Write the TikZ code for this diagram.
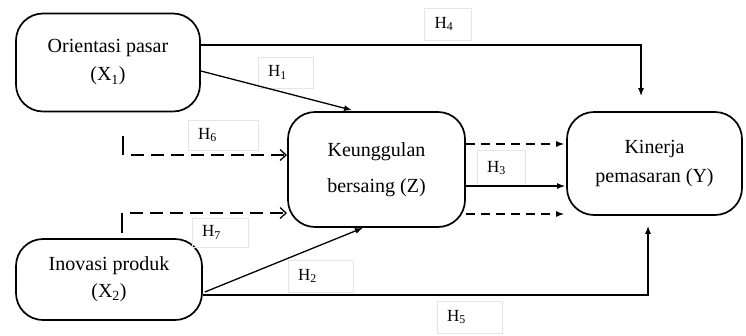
\documentclass[tikz,border=0pt]{standalone}
\usepackage{fontspec}
\setmainfont{Liberation Serif}
\usetikzlibrary{arrows.meta}
\begin{document}
\begin{tikzpicture}[x=1pt,y=-1pt,
  box/.style={draw, line width=1.7pt, rounded corners=27pt, align=center,
    font=\fontsize{20}{23}\selectfont, inner sep=0pt},
  lbl/.style={draw=black!10, line width=0.6pt, font=\fontsize{17}{20}\selectfont,
    align=left, inner xsep=10pt, inner ysep=0pt},
  arr/.style={line width=1.3pt, -{Latex[length=8pt,width=6pt]}},
  darr/.style={arr, dash pattern=on 9pt off 6pt},
  oarr/.style={line width=1.3pt, dash pattern=on 13pt off 7pt,
    -{Straight Barb[length=6pt,width=11pt]}},
  tick/.style={line width=1.3pt}
]
\useasboundingbox (0,0) rectangle (746,335);

% boxes
\node[box, minimum width=184pt, minimum height=98pt] (X1) at (108,62.5)
  {Orientasi pasar\\[5pt](X\textsubscript{1})};
\node[box, minimum width=186pt, minimum height=81pt] (X2) at (109,279.5)
  {Inovasi produk\\[4pt](X\textsubscript{2})};
\node[box, minimum width=177pt, minimum height=115pt] (Z) at (376.5,169.5)
  {Keunggulan\\[13pt]bersaing (Z)};
\node[box, minimum width=175pt, minimum height=103pt] (Y) at (654.5,163.5)
  {Kinerja\\[6pt]pemasaran (Y)};

% labels
\node[lbl, text width=27pt, minimum height=32pt] (h4) at (448,24) {H\textsubscript{4}};
\node[lbl, text width=35pt, minimum height=31pt] (h1) at (285.5,72.5) {H\textsubscript{1}};
\node[lbl, text width=50pt, minimum height=30pt] (h6) at (223,135) {H\textsubscript{6}};
\node[lbl, text width=36pt, minimum height=29pt] (h7) at (220,232.5) {H\textsubscript{7}};
\node[lbl, text width=45pt, minimum height=32pt] (h2) at (320.5,276) {H\textsubscript{2}};
\node[lbl, text width=28pt, minimum height=35pt] (h3) at (501,168) {H\textsubscript{3}};
\node[lbl, text width=45pt, minimum height=32pt] (h5) at (469.5,317) {H\textsubscript{5}};

% free ends for the moderation ticks
\coordinate (t6a) at (123,136);
\coordinate (t6b) at (123,155);
\coordinate (t6c) at (131,155);
\coordinate (t6d) at (287,155);
\coordinate (t7a) at (122,233);
\coordinate (t7b) at (122,213);
\coordinate (t7c) at (130,213);
\coordinate (t7d) at (287,213);

% connectors
\draw[arr] ([yshift=17.5pt]X1.east) -| ([xshift=-13.5pt,yshift=15pt]Y.north);
\draw[arr] ([yshift=-8.5pt]X1.east) -- ([xshift=-24.5pt,yshift=1pt]Z.north);
\draw[arr] ([xshift=2pt,yshift=-12.5pt]X2.east) -- ([xshift=-13.5pt]Z.south);
\draw[arr] ([yshift=-15.5pt]X2.east) -| ([xshift=-6.5pt,yshift=-10pt]Y.south);

\draw[tick] (t6a) -- (t6b);
\draw[oarr] (t6c) -- (t6d);
\draw[tick] (t7a) -- (t7b);
\draw[oarr] (t7c) -- (t7d);

\draw[darr] ([yshift=25.5pt]Z.east) -- ([xshift=-2pt,yshift=19.5pt]Y.west);
\draw[arr]  ([yshift=-16.5pt]Z.east) -- ([xshift=-1pt,yshift=-22.5pt]Y.west);
\draw[darr] ([yshift=-44.5pt]Z.east) -- ([xshift=-2pt,yshift=-50.5pt]Y.west);
\end{tikzpicture}
\end{document}
